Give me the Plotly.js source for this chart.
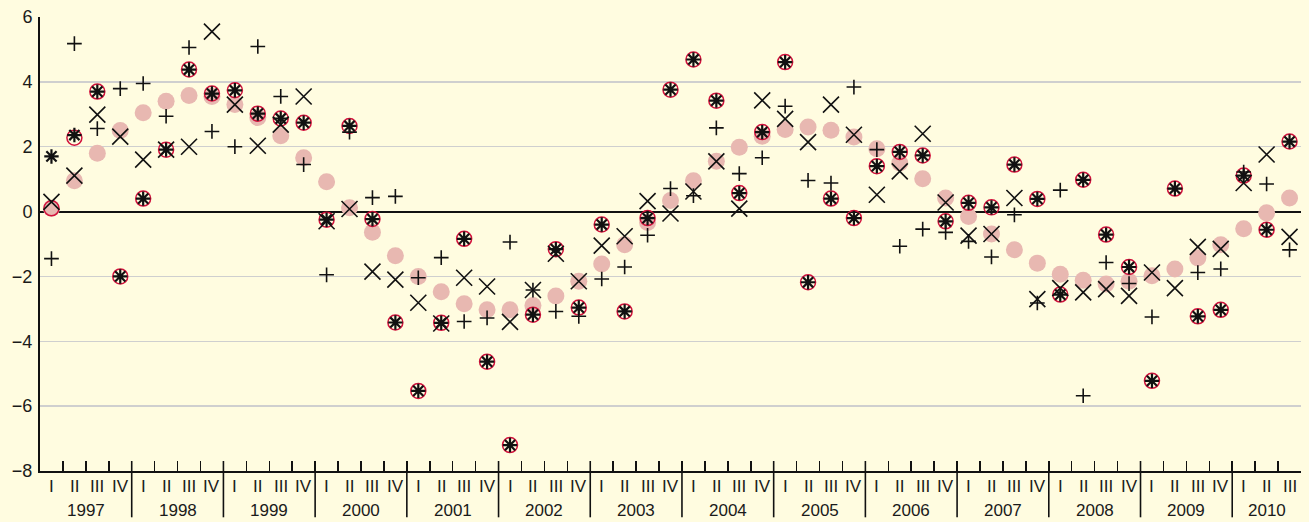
<!DOCTYPE html>
<html>
<head>
<meta charset="utf-8">
<script src="https://cdn.plot.ly/plotly-3.0.1.min.js"></script>
<style>
  html, body { margin: 0; padding: 0; background: #fffce0; }
  #chart { width: 1309px; height: 522px; }
</style>
</head>
<body>
<div id="chart"></div>
<script>
// ---- data (one value per quarter, 1997 I .. 2010 III) ----
const years = ['1997','1998','1999','2000','2001','2002','2003','2004','2005','2006','2007','2008','2009','2010'];
const quarterLabels = ['I','II','III','IV'];

// smooth series (pink filled circles)
const trend = [0.1,0.95,1.8,2.5, 3.05,3.4,3.58,3.55, 3.3,2.9,2.34,1.66, 0.92,0.12,-0.64,-1.36,
  -2.0,-2.47,-2.84,-3.03, -3.03,-2.9,-2.6,-2.15, -1.62,-1.02,-0.34,0.34, 0.95,1.55,1.98,2.32,
  2.53,2.61,2.51,2.3, 1.94,1.5,1.01,0.42, -0.15,-0.69,-1.18,-1.59, -1.93,-2.12,-2.23,-2.15,
  -1.98,-1.77,-1.43,-1.02, -0.53,-0.04,0.42];

// red open circles
const circled = [0.1,2.28,3.7,-2.0, 0.4,1.91,4.38,3.64, 3.74,3.02,2.87,2.74, -0.25,2.64,-0.23,-3.42,
  -5.53,-3.43,-0.84,-4.63, -7.2,-3.18,-1.16,-2.96, -0.4,-3.08,-0.2,3.76, 4.69,3.42,0.57,2.45,
  4.61,-2.18,0.4,-0.2, 1.4,1.84,1.73,-0.3, 0.27,0.13,1.45,0.39, -2.56,0.98,-0.71,-1.71,
  -5.22,0.71,-3.23,-3.03, 1.11,-0.56,2.16];

// asterisks
const actual = [1.7,2.36,3.7,-2.0, 0.4,1.91,4.38,3.64, 3.74,3.02,2.87,2.74, -0.25,2.64,-0.23,-3.42,
  -5.53,-3.43,-0.84,-4.63, -7.2,-3.18,-1.16,-2.96, -0.4,-3.08,-0.2,3.76, 4.69,3.42,0.57,2.45,
  4.61,-2.18,0.4,-0.2, 1.4,1.84,1.73,-0.3, 0.27,0.13,1.45,0.39, -2.56,0.98,-0.71,-1.71,
  -5.22,0.71,-3.23,-3.03, 1.11,-0.56,2.16];

// crosses (+)
const plusSeries = [-1.45,5.18,2.56,3.79, 3.95,2.94,5.06,2.47, 2.0,5.09,3.55,1.45, -1.95,2.45,0.43,0.47,
  -2.04,-1.42,-3.39,-3.28, -0.94,-2.42,-3.08,-3.23, -2.08,-1.71,-0.73,0.71, 0.49,2.58,1.17,1.66,
  3.25,0.96,0.88,3.84, 1.91,-1.07,-0.54,-0.64, -0.92,-1.4,-0.1,-2.82, 0.66,-5.68,-1.57,-2.22,
  -3.25,0.71,-1.88,-1.77, 1.22,0.85,-1.18];

// diagonal crosses (x)
const xSeries = [0.3,1.11,2.99,2.31, 1.6,1.91,2.0,5.55, 3.3,2.03,2.68,3.55, -0.3,0.08,-1.85,-2.1,
  -2.81,-3.45,-2.04,-2.31, -3.4,-2.42,-1.3,-2.15, -1.05,-0.76,0.32,-0.06, 0.62,1.55,0.09,3.43,
  2.86,2.14,3.3,2.37, 0.52,1.24,2.4,0.28, -0.74,-0.69,0.42,-2.7, -2.36,-2.49,-2.39,-2.6,
  -1.88,-2.36,-1.09,-1.15, 0.88,1.76,-0.78];

// ---- build ----
const n = trend.length;
const xs = Array.from({length: n}, (_, i) => i);
const black = '#111111';
const font = 'Liberation Sans, Arial, Helvetica, sans-serif';

const traces = [
  {x: xs, y: trend, type: 'scatter', mode: 'markers', hoverinfo: 'skip',
   marker: {symbol: 'circle', size: 17, color: '#e8b8b1', line: {width: 0}}},
  {x: xs, y: circled, type: 'scatter', mode: 'markers', hoverinfo: 'skip',
   marker: {symbol: 'circle-open', size: 15, color: '#d2123c', line: {width: 1.5, color: '#d2123c'}}},
  {x: xs, y: plusSeries, type: 'scatter', mode: 'markers', hoverinfo: 'skip',
   marker: {symbol: 'cross-thin-open', size: 10.5, color: black, line: {width: 1.6, color: black}}},
  {x: xs, y: xSeries, type: 'scatter', mode: 'markers', hoverinfo: 'skip',
   marker: {symbol: 'x-thin-open', size: 16, color: black, line: {width: 1.6, color: black}}},
  {x: xs, y: actual, type: 'scatter', mode: 'markers', hoverinfo: 'skip',
   marker: {symbol: 'asterisk-open', size: 12, color: black, line: {width: 2.2, color: black}}}
];

// quarter boundaries
const boundaries = Array.from({length: n + 1}, (_, k) => k - 0.5);

const annotations = [];
xs.forEach(i => {
  annotations.push({x: i, xref: 'x', y: -0.035, yref: 'paper', yanchor: 'middle',
    text: quarterLabels[i % 4], showarrow: false, font: {family: font, size: 17, color: '#1a1a1a'}});
});
years.forEach((yr, k) => {
  const first = 4 * k;
  const last = Math.min(4 * k + 3, n - 1);
  annotations.push({x: (first + last) / 2, xref: 'x', y: -0.086, yref: 'paper', yanchor: 'middle',
    text: yr, showarrow: false, font: {family: font, size: 17, color: '#1a1a1a'}});
});

const shapes = [];
for (let k = 1; k < years.length; k++) {
  const xb = 4 * k - 0.5;
  shapes.push({type: 'line', xref: 'x', yref: 'paper', x0: xb, x1: xb, y0: 0.022, y1: -0.102,
    line: {color: black, width: 1.6}});
}

const layout = {
  width: 1309, height: 522,
  margin: {l: 40, r: 8, t: 17, b: 51, pad: 0},
  paper_bgcolor: '#fffce0', plot_bgcolor: '#fffce0',
  showlegend: false,
  xaxis: {range: [-0.5, n - 0.5], showgrid: false, zeroline: false,
    showline: true, linecolor: black, linewidth: 2,
    tickmode: 'array', tickvals: boundaries, ticks: 'inside', ticklen: 10, tickwidth: 1.5, tickcolor: black,
    showticklabels: false, fixedrange: true},
  yaxis: {range: [-8, 6], tickmode: 'array', tickvals: [-8,-6,-4,-2,0,2,4,6],
    showgrid: true, gridcolor: '#cfcfcf', gridwidth: 1.5,
    zeroline: true, zerolinecolor: black, zerolinewidth: 2,
    showline: true, linecolor: black, linewidth: 2, ticks: '',
    ticklabelstandoff: 2,
    tickfont: {family: font, size: 18, color: '#1a1a1a'}, fixedrange: true},
  annotations: annotations,
  shapes: shapes
};

Plotly.newPlot('chart', traces, layout, {staticPlot: true, displayModeBar: false});
</script>
</body>
</html>
